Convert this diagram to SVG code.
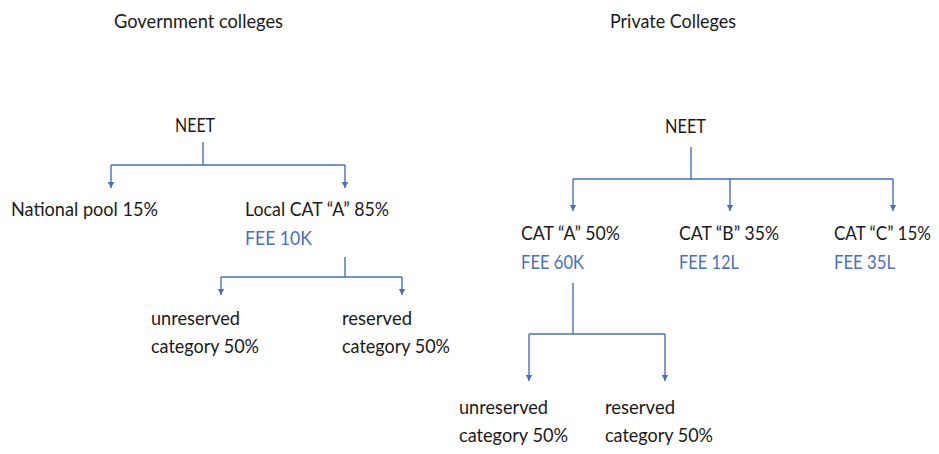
<svg xmlns="http://www.w3.org/2000/svg" width="939" height="454" viewBox="0 0 939 454">
  <defs>
    <!-- small filled triangle, drawn pointing along +x so orient="auto" follows the line -->
    <marker id="arrow" markerUnits="userSpaceOnUse" markerWidth="8" markerHeight="8" viewBox="0 0 8 8" refX="7" refY="4" orient="auto">
      <path d="M1,0.8 L7,4 L1,7.2 Z" fill="#4a70b5"/>
    </marker>
    <style>
      text { font-family: Lato, "Open Sans", "Liberation Sans", sans-serif; font-size: 20px; fill: #1a1a1a; }
      .fee { fill: #4a70b5; }
      .wire { fill: none; stroke: #4a70b5; stroke-width: 1.4; }
      .arr { marker-end: url(#arrow); }
    </style>
  </defs>
  <rect width="939" height="454" fill="#ffffff"/>

  <!-- section titles -->
  <g id="title-government">
    <text x="114" y="28" textLength="169" lengthAdjust="spacingAndGlyphs">Government colleges</text>
  </g>
  <g id="title-private">
    <text x="610" y="28" textLength="126" lengthAdjust="spacingAndGlyphs">Private Colleges</text>
  </g>

  <!-- government tree -->
  <g id="gov-neet">
    <text x="175" y="132" textLength="40" lengthAdjust="spacingAndGlyphs">NEET</text>
  </g>
  <g id="gov-national">
    <text x="11" y="216" textLength="147" lengthAdjust="spacingAndGlyphs">National pool 15%</text>
  </g>
  <g id="gov-local">
    <text x="245" y="216" textLength="144" lengthAdjust="spacingAndGlyphs">Local CAT “A” 85%</text>
    <text class="fee" x="245" y="245" textLength="67" lengthAdjust="spacingAndGlyphs">FEE  10K</text>
  </g>
  <g id="gov-unreserved">
    <text x="151" y="325" textLength="89" lengthAdjust="spacingAndGlyphs">unreserved</text>
    <text x="151" y="353" textLength="108" lengthAdjust="spacingAndGlyphs">category 50%</text>
  </g>
  <g id="gov-reserved">
    <text x="342" y="325" textLength="70" lengthAdjust="spacingAndGlyphs">reserved</text>
    <text x="342" y="353" textLength="108" lengthAdjust="spacingAndGlyphs">category 50%</text>
  </g>

  <!-- private tree -->
  <g id="pvt-neet">
    <text x="665" y="133" textLength="41" lengthAdjust="spacingAndGlyphs">NEET</text>
  </g>
  <g id="pvt-cat-a">
    <text x="521" y="240" textLength="99" lengthAdjust="spacingAndGlyphs">CAT “A” 50%</text>
    <text class="fee" x="521" y="269" textLength="63" lengthAdjust="spacingAndGlyphs">FEE 60K</text>
  </g>
  <g id="pvt-cat-b">
    <text x="679" y="240" textLength="100" lengthAdjust="spacingAndGlyphs">CAT “B” 35%</text>
    <text class="fee" x="679" y="269" textLength="60" lengthAdjust="spacingAndGlyphs">FEE 12L</text>
  </g>
  <g id="pvt-cat-c">
    <text x="834" y="240" textLength="97" lengthAdjust="spacingAndGlyphs">CAT “C” 15%</text>
    <text class="fee" x="834" y="269" textLength="61" lengthAdjust="spacingAndGlyphs">FEE 35L</text>
  </g>
  <g id="pvt-unreserved">
    <text x="459" y="414" textLength="89" lengthAdjust="spacingAndGlyphs">unreserved</text>
    <text x="459" y="442" textLength="109" lengthAdjust="spacingAndGlyphs">category 50%</text>
  </g>
  <g id="pvt-reserved">
    <text x="605" y="414" textLength="70" lengthAdjust="spacingAndGlyphs">reserved</text>
    <text x="605" y="442" textLength="108" lengthAdjust="spacingAndGlyphs">category 50%</text>
  </g>

  <!-- connectors -->
  <g id="connectors">
    <!-- government: NEET split -->
    <path class="wire" d="M203,142 V165"/>
    <path class="wire" d="M111,165 H345"/>
    <path class="wire arr" d="M111,165 V188"/>
    <path class="wire arr" d="M345,165 V188"/>
    <!-- government: local quota split -->
    <path class="wire" d="M345,257 V277"/>
    <path class="wire" d="M221,277 H402"/>
    <path class="wire arr" d="M221,277 V295"/>
    <path class="wire arr" d="M402,277 V295"/>
    <!-- private: NEET split -->
    <path class="wire" d="M691,147 V179"/>
    <path class="wire" d="M573,179 H893"/>
    <path class="wire arr" d="M573,179 V211"/>
    <path class="wire arr" d="M730,179 V211"/>
    <path class="wire arr" d="M893,179 V211"/>
    <!-- private: CAT A split -->
    <path class="wire" d="M573,283 V334"/>
    <path class="wire" d="M529,334 H665"/>
    <path class="wire arr" d="M529,334 V381"/>
    <path class="wire arr" d="M665,334 V381"/>
  </g>
</svg>
